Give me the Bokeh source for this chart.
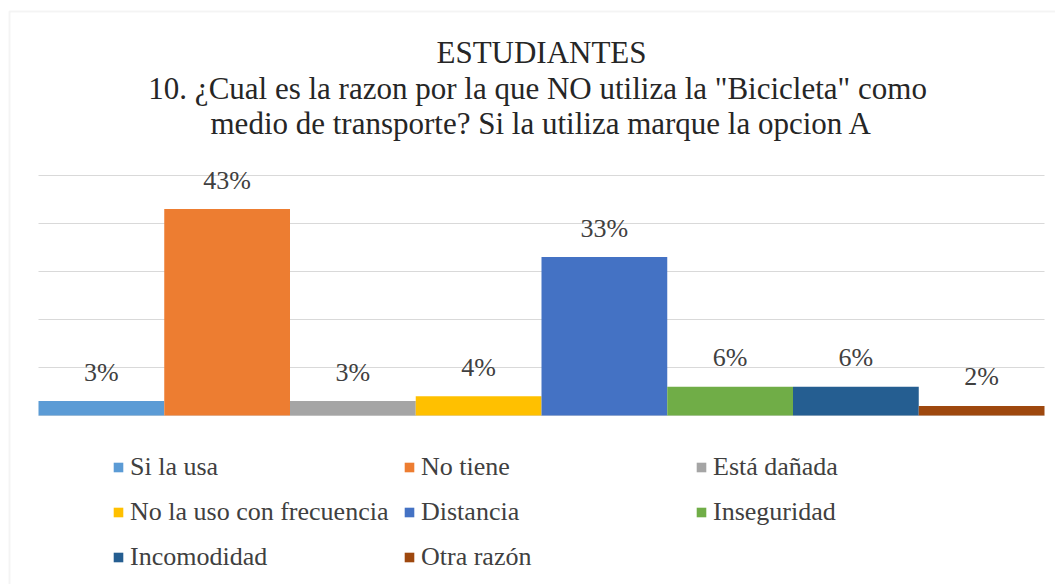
from bokeh.plotting import figure
from bokeh.models import ColumnDataSource, LabelSet, Label, Legend, LegendItem, Range1d, BoxAnnotation
from bokeh.embed import file_html
from bokeh.resources import INLINE

categories = ["Si la usa", "No tiene", "Está dañada", "No la uso con frecuencia",
              "Distancia", "Inseguridad", "Incomodidad", "Otra razón"]
values = [3, 43, 3, 4, 33, 6, 6, 2]
colors = ["#5B9BD5", "#ED7D31", "#A5A5A5", "#FFC000", "#4472C4", "#70AD47", "#255E91", "#9E480E"]
grid_ticks = [0, 10, 20, 30, 40, 50]
title_lines = ["ESTUDIANTES",
               "10. ¿Cual es la razon por la que NO utiliza la \"Bicicleta\"  como",
               "medio de transporte? Si la utiliza marque la opcion A"]

FONT = "Liberation Serif"
TXT = "#404040"

pos = [i + 0.5 for i in range(len(categories))]
src = ColumnDataSource(dict(x=pos, cat=categories, val=values, color=colors,
                            lab=[f"{v}%" for v in values]))

p = figure(x_range=Range1d(-38 / 125.75, 8 + 11 / 125.75), y_range=Range1d(-35.21, 86.46),
           width=1055, height=584, output_backend="svg", toolbar_location=None,
           min_border_left=0, min_border_right=0, min_border_top=0, min_border_bottom=0,
           x_axis_location=None, y_axis_location=None)
p.outline_line_color = None
p.background_fill_color = "white"
p.border_fill_color = "white"
p.xgrid.grid_line_color = None
p.ygrid.grid_line_color = None

p.segment(x0=0, x1=len(categories), y0=grid_ticks, y1=grid_ticks,
          line_color="#D9D9D9", line_width=1)

p.add_layout(BoxAnnotation(left=9, right=1200, top=573, bottom=-20,
                           left_units="screen", right_units="screen",
                           top_units="screen", bottom_units="screen",
                           fill_alpha=0, line_color="#DADADA", line_width=2))

r = p.vbar(x="x", top="val", bottom=0, width=1.0, source=src,
           fill_color="color", line_color=None)

labels = LabelSet(x="x", y="val", text="lab", source=src, y_offset=29,
                  text_align="center", text_baseline="middle",
                  text_font=FONT, text_font_size="26px", text_color=TXT)
p.add_layout(labels)

for txt, ypos in zip(title_lines, [532, 496, 461]):
    p.add_layout(Label(x=541, y=ypos, x_units="screen", y_units="screen", text=txt,
                       text_align="center", text_baseline="middle",
                       text_font=FONT, text_font_size="31px", text_color="#262626"))

cols = [[0, 3, 6], [1, 4, 7], [2, 5]]
xs = [112, 403, 695]
for idxs, lx in zip(cols, xs):
    items = [LegendItem(label=categories[i], renderers=[r], index=i) for i in idxs]
    bottom = 584 - (467 + 45 * (len(idxs) - 1) + 15)
    leg = Legend(items=items, location=(lx, bottom), orientation="vertical",
                 padding=0, margin=0, spacing=15, label_height=30,
                 glyph_width=12, glyph_height=12, label_standoff=6,
                 label_text_font=FONT, label_text_font_size="26px", label_text_color=TXT,
                 border_line_color=None, background_fill_alpha=0)
    p.add_layout(leg, "center")

open("out.html", "w").write(file_html(p, INLINE))
